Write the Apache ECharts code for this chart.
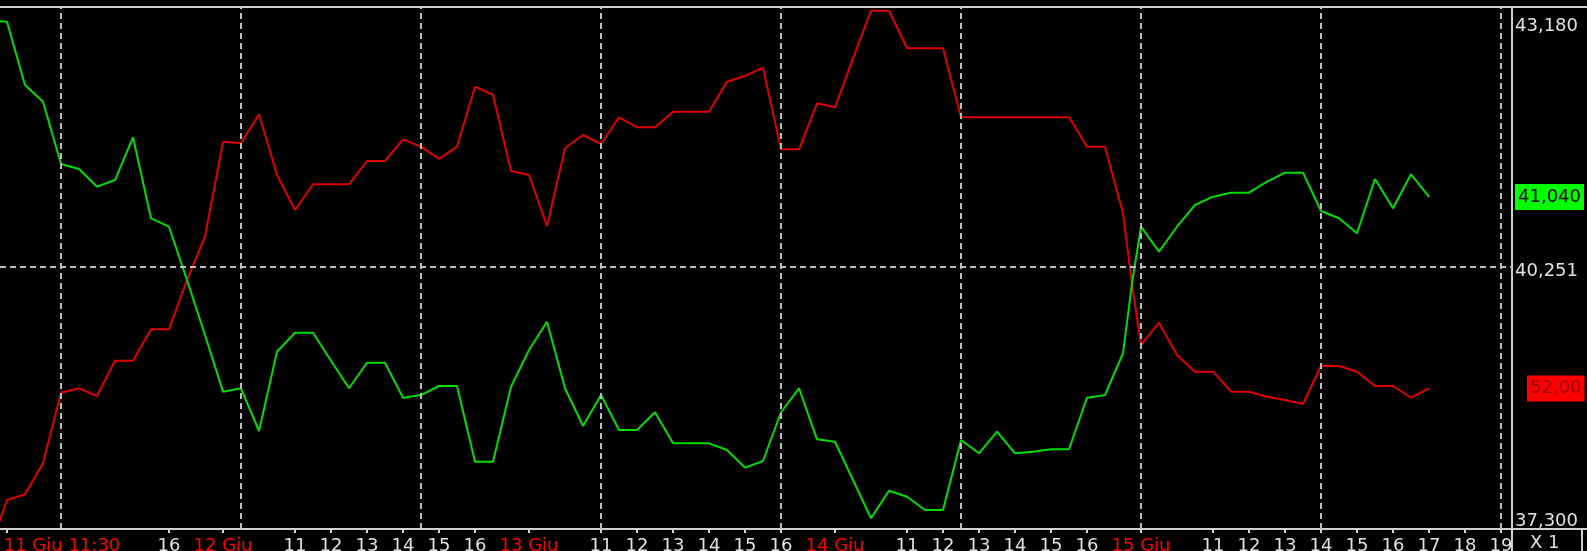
<!DOCTYPE html>
<html>
<head>
<meta charset="utf-8">
<script src="https://cdn.jsdelivr.net/npm/echarts@6/dist/echarts.min.js"></script>
<style>
html,body{margin:0;padding:0;background:#000;}
#chart{width:1587px;height:551px;}
</style>
</head>
<body>
<div id="chart"></div>
<script>
// time slots (half-hour index of trading time, 0 = 11 Giu 11:30)
const slots = [-1,0,1,2,3,4,5,6,7,8,9,10,11,12,13,14,15,16,17,18,19,20,21,22,23,24,25,26,27,28,29,30,31,32,33,34,35,36,37,38,39,40,41,42,43,44,45,46,47,48,49,50,51,52,53,54,55,56,57,58,59,60,61,61.5,62,62.5,63,64,65,66,67,68,69,70,71,72,73,74,75,76,77,78,79];
const greenValues = [43.026,43.014,42.301,42.113,41.412,41.355,41.156,41.231,41.712,40.800,40.705,40.105,39.485,38.847,38.885,38.404,39.297,39.511,39.511,39.196,38.885,39.173,39.173,38.779,38.809,38.911,38.911,38.058,38.058,38.903,39.316,39.635,38.885,38.460,38.809,38.415,38.415,38.615,38.265,38.265,38.265,38.190,37.991,38.066,38.615,38.885,38.310,38.283,37.852,37.421,37.731,37.664,37.514,37.514,38.303,38.153,38.396,38.153,38.171,38.198,38.198,38.779,38.809,39.046,39.279,40.068,40.705,40.424,40.705,40.950,41.043,41.088,41.088,41.212,41.314,41.314,40.882,40.800,40.631,41.243,40.913,41.296,41.040];
const redValues = [43.9,46.445,46.728,48.272,51.789,52.008,51.625,53.383,53.383,54.947,54.947,57.402,59.559,64.291,64.211,65.656,62.632,60.889,62.169,62.169,62.169,63.330,63.330,64.410,64.042,63.429,64.042,67.030,66.617,62.832,62.632,60.092,63.962,64.625,64.176,65.506,65.008,65.008,65.785,65.785,65.785,67.279,67.563,67.977,63.912,63.912,66.204,66.004,68.445,70.816,70.816,68.943,68.943,68.943,65.506,65.506,65.506,65.506,65.506,65.506,65.506,64.042,64.042,62.383,60.724,57.238,54.165,55.276,53.667,52.835,52.835,51.839,51.839,51.590,51.425,51.226,53.119,53.119,52.835,52.123,52.123,51.539,52.00];
const tickSlots = [0,9,12,16,18,20,22,24,26,29,33,35,37,39,41,43,46,50,52,54,56,58,60,63,67,69,71,73,75,77,79,81,83];
const tickLabels = ["11 Giu 11:30","16","12 Giu","11","12","13","14","15","16","13 Giu","11","12","13","14","15","16","14 Giu","11","12","13","14","15","16","15 Giu","11","12","13","14","15","16","17","18","19"];
const gridSlots = [3,13,23,33,43,53,63,73,83];
const yLabelValues = [37.300,40.251,43.180];
const midLevel = 40.251;

const FONT = 'DejaVu Sans';
const chart = echarts.init(document.getElementById('chart'));
const gData = slots.map((s,i)=>[s,greenValues[i]]);
const rData = slots.map((s,i)=>[s,redValues[i]]);
const lastSlot = slots[slots.length-1];
const lastG = greenValues[greenValues.length-1];
const lastR = redValues[redValues.length-1];
const dash = {color:'#bdbdbd', type:[6,4], width:2};
const hidden = {color:'rgba(0,0,0,0)', width:0};

chart.setOption({
  backgroundColor:'#000',
  animation:false,
  grid:{left:0,right:75,top:7,bottom:22,containLabel:false,outerBoundsMode:'none'},
  xAxis:{
    type:'value', min:-7/18, max:(1512-7)/18,
    axisLine:{show:true, lineStyle:{color:'#d0d0d0', width:2}},
    axisTick:{show:true, customValues:tickSlots, length:4, lineStyle:{color:'#d0d0d0', width:2}},
    splitLine:{show:false},
    axisLabel:{
      customValues:tickSlots, margin:8, fontFamily:FONT, fontSize:18, color:'#e0e0e0',
      formatter:function(v){
        const i = tickSlots.indexOf(v);
        if(i<0) return '';
        const t = tickLabels[i];
        if(i===0) return '{f|'+t+'}';
        return t.indexOf('Giu')>=0 ? '{d|'+t+'}' : '{h|'+t+'}';
      },
      rich:{
        f:{color:'#ff0000', fontFamily:FONT, fontSize:18, padding:[0,0,0,110]},
        d:{color:'#ff0000', fontFamily:FONT, fontSize:18},
        h:{color:'#e0e0e0', fontFamily:FONT, fontSize:18}
      }
    }
  },
  yAxis:[{
    type:'value', position:'right', min:37.3, max:43.18,
    axisLine:{show:false}, axisTick:{show:false}, splitLine:{show:false},
    axisLabel:{
      customValues:yLabelValues, margin:3, fontFamily:FONT, fontSize:18, color:'#e0e0e0',
      verticalAlignMinLabel:'bottom', verticalAlignMaxLabel:'top',
      formatter:function(v){
        const s = v.toFixed(3).replace('.',',');
        if(Math.abs(v-43.18)<1e-6) return '{t|'+s+'}';
        if(Math.abs(v-37.3)<1e-6) return '{b|'+s+'}';
        return '{m|'+s+'}';
      },
      rich:{
        t:{color:'#e0e0e0', fontFamily:FONT, fontSize:18, padding:[10,0,0,0]},
        m:{color:'#e0e0e0', fontFamily:FONT, fontSize:18, padding:[9,0,0,0]},
        b:{color:'#e0e0e0', fontFamily:FONT, fontSize:18, lineHeight:16}
      }
    }
  },{
    type:'value', position:'right', min:45, max:71, show:false
  }],
  series:[{
    name:'grid', type:'line', yAxisIndex:0, data:[[lastSlot,lastG]], symbol:'none', z:1,
    lineStyle:{opacity:0},
    markLine:{
      silent:true, symbol:'none', animation:false,
      data:[{yAxis:midLevel, lineStyle:dash, label:{show:false}}]
        .concat(gridSlots.map(s=>({xAxis:s, lineStyle:dash, label:{show:false}})))
    }
  },{
    name:'red', type:'line', yAxisIndex:1, data:rData, symbol:'none', z:3,
    lineStyle:{color:'#e00000', width:2}
  },{
    name:'green', type:'line', yAxisIndex:0, data:gData, symbol:'none', z:4,
    lineStyle:{color:'#00dd00', width:2}
  },{
    name:'redTag', type:'line', yAxisIndex:1, data:[[lastSlot,lastR]], symbol:'none', clip:false, z:10,
    lineStyle:{opacity:0},
    markLine:{
      silent:true, symbol:'none', animation:false,
      data:[{yAxis:lastR, lineStyle:hidden,
        label:{show:true, opacity:1, position:'end', distance:15, formatter:lastR.toFixed(2).replace('.',','),
          backgroundColor:'#ff0000', color:'#9a0000', fontFamily:FONT, fontSize:18, padding:[4,3,4,3]}}]
    }
  },{
    name:'greenTag', type:'line', yAxisIndex:0, data:[[lastSlot,lastG]], symbol:'none', clip:false, z:10,
    lineStyle:{opacity:0},
    markLine:{
      silent:true, symbol:'none', animation:false,
      data:[{yAxis:lastG, lineStyle:hidden,
        label:{show:true, opacity:1, position:'end', distance:3, formatter:lastG.toFixed(3).replace('.',','),
          backgroundColor:'#00ff00', color:'#000', fontFamily:FONT, fontSize:18, padding:[4,3,4,3]}}]
    }
  }],
  graphic:[
    {type:'line', shape:{x1:0,y1:7,x2:1587,y2:7}, style:{stroke:'#d0d0d0', lineWidth:2}},
    {type:'line', shape:{x1:1512,y1:529,x2:1587,y2:529}, style:{stroke:'#d0d0d0', lineWidth:2}},
    {type:'line', shape:{x1:1512,y1:7,x2:1512,y2:551}, style:{stroke:'#d0d0d0', lineWidth:2}},
    {type:'line', shape:{x1:1582,y1:529,x2:1582,y2:551}, style:{stroke:'#d0d0d0', lineWidth:2}},
    {type:'text', left:1530, top:534, style:{text:'X 1', fill:'#e0e0e0', font:'18px "DejaVu Sans"'}}
  ]
});
</script>
</body>
</html>
